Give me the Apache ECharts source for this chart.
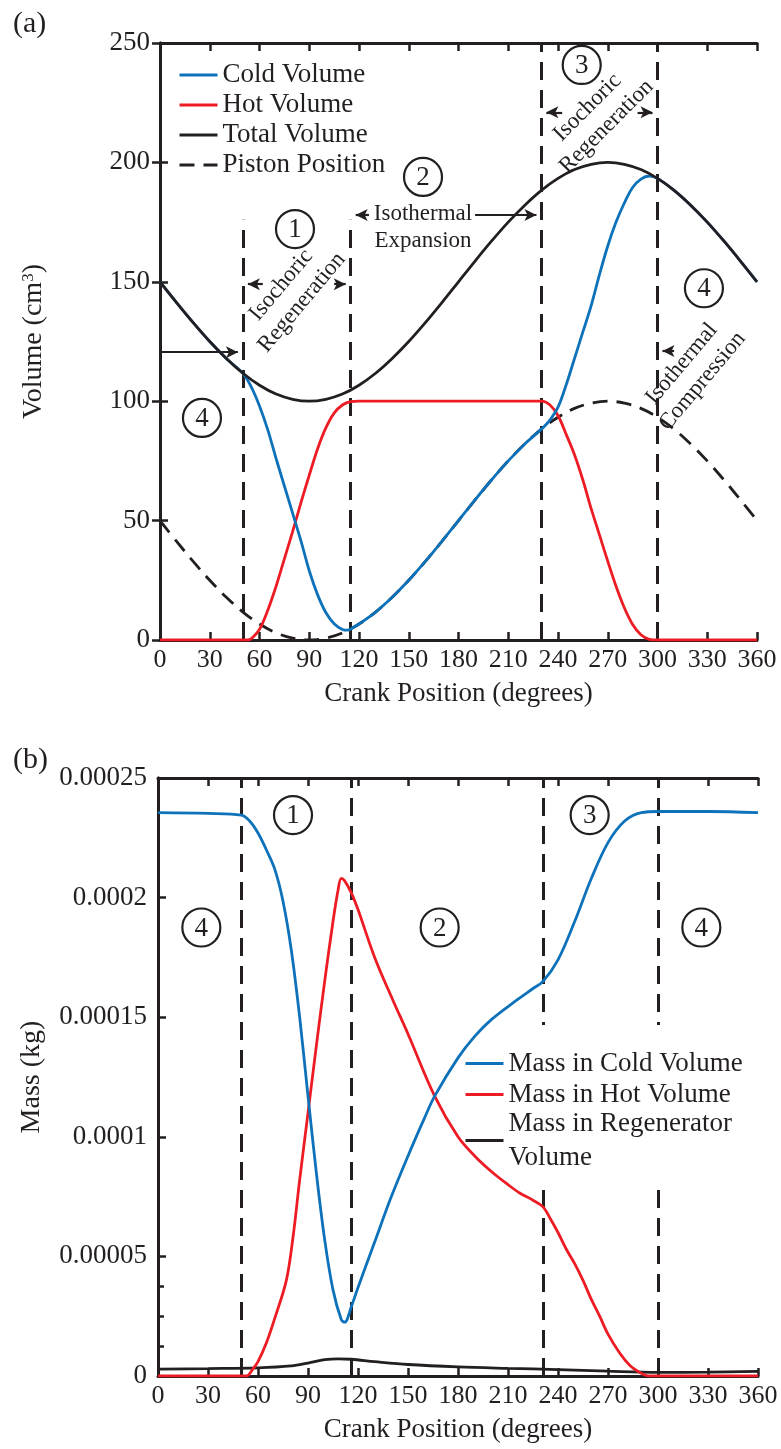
<!DOCTYPE html>
<html>
<head>
<meta charset="utf-8">
<script src="https://cdn.jsdelivr.net/npm/echarts/dist/echarts.min.js"></script>
<style>
html,body{margin:0;padding:0;background:#fff;}
#chart{width:781px;height:1449px;}
</style>
</head>
<body>
<div id="chart"></div>
<script>
// ---------------- DATA ----------------
const crankTicks = [0, 30, 60, 90, 120, 150, 180, 210, 240, 270, 300, 330, 360];
const volumeTicks = [0, 50, 100, 150, 200, 250];
const massTicks = [0, 0.00005, 0.0001, 0.00015, 0.0002, 0.00025];
const massMinorTicks = [0.0000125, 0.000025, 0.0000375];

// (a) volumes [crank deg, cm^3]
const coldVolume = [[0,150],[10,141.3],[20,132.9],[30,125],[40,117.9],[50,111.7],[55,106],[60,98],[65,88],[70,76],[75,64.5],[80,53],[85,41.5],[90,29],[95,19],[100,11.5],[105,6.8],[110,4.4],[113,4.1],[116,5],[120,6.7],[130,11.7],[140,17.9],[150,25],[160,32.9],[170,41.3],[180,50],[190,58.7],[200,67.1],[210,75],[220,82.1],[230,88.3],[235,92],[240,97.5],[245,107],[250,118],[255,129],[260,140],[265,153],[270,165],[275,175],[280,183],[285,189.5],[290,193],[295,194.3],[300,193.3],[310,188.3],[320,182.1],[330,175],[340,167.1],[350,158.7],[360,150]];
const hotVolume = [[0,0],[50,0],[53,0],[55,0.5],[60,4.5],[65,12.5],[70,22.5],[75,34],[80,45.5],[85,57.5],[90,69],[95,80],[100,88.8],[105,95],[110,98.4],[115,99.8],[120,100],[230,100],[235,98.5],[240,94],[245,86],[250,77.5],[255,67],[260,55],[265,44],[270,33],[275,22.5],[280,13.5],[285,6.5],[290,2.2],[295,0.3],[300,0],[360,0]];
const totalVolume = [[0,150],[10,141.3],[20,132.9],[30,125],[40,117.9],[50,111.7],[60,106.7],[70,103],[80,100.8],[90,100],[100,100.8],[110,103],[120,106.7],[130,111.7],[140,117.9],[150,125],[160,132.9],[170,141.3],[180,150],[190,158.7],[200,167.1],[210,175],[220,182.1],[230,188.3],[240,193.3],[250,197],[260,199.2],[270,200],[280,199.2],[290,197],[300,193.3],[310,188.3],[320,182.1],[330,175],[340,167.1],[350,158.7],[360,150]];
const pistonPosition = [[0,50],[10,41.3],[20,32.9],[30,25],[40,17.9],[50,11.7],[60,6.7],[70,3],[80,0.8],[90,0],[100,0.8],[110,3],[120,6.7],[130,11.7],[140,17.9],[150,25],[160,32.9],[170,41.3],[180,50],[190,58.7],[200,67.1],[210,75],[220,82.1],[230,88.3],[240,93.3],[250,97],[260,99.2],[270,100],[280,99.2],[290,97],[300,93.3],[310,88.3],[320,82.1],[330,75],[340,67.1],[350,58.7],[360,50]];

// (b) masses [crank deg, kg]
const massCold = [[0,0.0002355],[30,0.0002352],[50,0.0002345],[55,0.000232],[60,0.000227],[65,0.00022],[70,0.000212],[75,0.0001985],[80,0.000178],[85,0.00015],[90,0.000117],[95,0.000085],[100,0.000057],[105,0.000036],[110,0.0000235],[112,0.0000225],[116,0.000029],[120,0.000037],[130,0.000056],[140,0.000075],[150,0.000092],[160,0.000108],[166,0.000117],[180,0.000133],[190,0.000142],[200,0.000149],[215,0.000157],[225,0.000162],[231,0.000165],[240,0.000174],[250,0.00019],[260,0.000208],[270,0.000223],[280,0.000232],[290,0.0002355],[300,0.000236],[330,0.000236],[360,0.0002355]];
const massHot = [[0,0],[50,0],[53,0],[57,0.000003],[60,0.000006],[65,0.0000138],[70,0.000024],[77,0.00004],[81,0.000058],[85,0.000082],[90,0.00011],[95,0.000138],[100,0.000165],[105,0.00019],[108,0.000203],[110,0.000208],[112,0.000207],[116,0.000202],[120,0.000195],[130,0.000175],[141,0.000157],[150,0.000143],[166,0.000117],[180,0.0001],[190,0.000092],[200,0.0000855],[210,0.00008],[217,0.0000765],[225,0.0000735],[231,0.0000707],[236,0.000065],[240,0.00006],[245,0.000053],[250,0.000047],[255,0.00004],[260,0.000032],[265,0.000025],[270,0.0000175],[277,0.0000096],[283,0.0000045],[289,0.0000015],[293,0.0000002],[296,0],[360,0]];
const massRegen = [[0,0.0000029],[30,0.0000031],[60,0.0000034],[80,0.0000042],[90,0.0000054],[100,0.0000068],[108,0.0000072],[116,0.000007],[130,0.000006],[150,0.0000048],[180,0.0000038],[210,0.0000032],[240,0.0000027],[270,0.000002],[300,0.0000015],[330,0.0000016],[360,0.0000019]];

// phase boundaries (crank deg)
const phaseBoundsA = [50, 115, 230, 300];
const phaseBoundsB = [50, 116, 231, 300];

// ---------------- STYLE ----------------
const FONT = '"Liberation Serif","Times New Roman",serif';
const INK = '#231f20', BLUE = '#0d72ba', RED = '#ed1c24';
const LW = 2.8;
const SMOOTH = 0.35;

function xAxisDef(grid, pos, labels, name) {
  return {
    type: 'value', gridIndex: grid, position: pos,
    min: crankTicks[0], max: crankTicks[crankTicks.length - 1], interval: crankTicks[1] - crankTicks[0],
    axisLine: { show: true, onZero: false, lineStyle: { color: INK, width: 3 } },
    axisTick: { show: true, inside: true, length: 8, lineStyle: { color: INK, width: 2.5 } },
    axisLabel: { show: labels, fontFamily: FONT, fontSize: 26, color: INK, margin: 7 },
    splitLine: { show: false },
    name: name || '', nameLocation: 'middle', nameGap: 40,
    nameTextStyle: { fontFamily: FONT, fontSize: 27, color: INK }
  };
}

const option = {
  animation: false,
  backgroundColor: '#fff',
  textStyle: { fontFamily: FONT },
  title: [
    { text: '(a)', left: 8, top: 4, textStyle: { fontFamily: FONT, fontSize: 30, fontWeight: 'normal', color: INK } },
    { text: '(b)', left: 8, top: 740, textStyle: { fontFamily: FONT, fontSize: 30, fontWeight: 'normal', color: INK } }
  ],
  grid: [
    { left: 160, top: 43, width: 597, height: 597 },
    { left: 158, top: 778, width: 600, height: 598 }
  ],
  legend: [
    {
      data: ['Cold Volume', 'Hot Volume', 'Total Volume', 'Piston Position'],
      orient: 'vertical', left: 173, top: 55, itemWidth: 38, itemHeight: 14, itemGap: 0,
      selectedMode: false, itemStyle: { opacity: 0 }, lineStyle: { width: 3 },
      backgroundColor: '#fff', z: 8,
      textStyle: { fontFamily: FONT, fontSize: 27, color: INK, lineHeight: 30 }
    },
    {
      data: ['Mass in Cold Volume', 'Mass in Hot Volume',
        { name: 'Mass in Regenerator\nVolume', textStyle: { lineHeight: 34, padding: [0, 0, -34, 0] } }],
      orient: 'vertical', left: 459, top: 1025, itemWidth: 38, itemHeight: 14, itemGap: 0,
      selectedMode: false, itemStyle: { opacity: 0 }, lineStyle: { width: 3 },
      backgroundColor: '#fff', padding: [23, 8, 10, 5], z: 8,
      textStyle: { fontFamily: FONT, fontSize: 27, color: INK, lineHeight: 31 }
    }
  ],
  xAxis: [
    xAxisDef(0, 'bottom', true, 'Crank Position (degrees)'),
    xAxisDef(0, 'top', false),
    xAxisDef(1, 'bottom', true, 'Crank Position (degrees)'),
    xAxisDef(1, 'top', false)
  ],
  yAxis: [
    {
      type: 'value', gridIndex: 0, position: 'left',
      min: volumeTicks[0], max: volumeTicks[volumeTicks.length - 1], interval: volumeTicks[1] - volumeTicks[0],
      axisLine: { show: true, lineStyle: { color: INK, width: 3 } },
      axisTick: { show: true, inside: true, length: 8, lineStyle: { color: INK, width: 2.5 } },
      axisLabel: { fontFamily: FONT, fontSize: 27, color: INK, margin: 10 },
      splitLine: { show: false },
      name: 'Volume (cm{s|3})', nameLocation: 'middle', nameGap: 112,
      nameTextStyle: { fontFamily: FONT, fontSize: 28, color: INK, rich: { s: { fontFamily: FONT, fontSize: 17, color: INK, verticalAlign: 'top', lineHeight: 28 } } }
    },
    {
      type: 'value', gridIndex: 0, position: 'right',
      min: volumeTicks[0], max: volumeTicks[volumeTicks.length - 1], interval: volumeTicks[1] - volumeTicks[0],
      axisLine: { show: true, lineStyle: { color: INK, width: 3 } },
      axisTick: { show: true, inside: true, length: 8, lineStyle: { color: INK, width: 2.5 } },
      axisLabel: { show: false }, splitLine: { show: false }
    },
    {
      type: 'value', gridIndex: 1, position: 'left',
      min: massTicks[0], max: massTicks[massTicks.length - 1], interval: massTicks[1] - massTicks[0],
      axisLine: { show: true, lineStyle: { color: INK, width: 3 } },
      axisTick: { show: true, inside: true, length: 8, lineStyle: { color: INK, width: 2.5 } },
      axisLabel: {
        fontFamily: FONT, fontSize: 27, color: INK, margin: 11,
        formatter: v => v.toFixed(5).replace(/0+$/, '').replace(/\.$/, '')
      },
      splitLine: { show: false },
      name: 'Mass (kg)', nameLocation: 'middle', nameGap: 112,
      nameTextStyle: { fontFamily: FONT, fontSize: 28, color: INK }
    },
    {
      type: 'value', gridIndex: 1, position: 'right',
      min: massTicks[0], max: massTicks[massTicks.length - 1], interval: massTicks[1] - massTicks[0],
      axisLine: { show: true, lineStyle: { color: INK, width: 3 } },
      axisTick: { show: false }, axisLabel: { show: false }, splitLine: { show: false }
    },
    {
      type: 'value', gridIndex: 1, position: 'left',
      min: massTicks[0], max: massTicks[massTicks.length - 1], interval: massTicks[1] - massTicks[0],
      axisLine: { show: false },
      axisTick: { show: true, inside: true, length: 6, customValues: massMinorTicks, lineStyle: { color: INK, width: 2.5 } },
      axisLabel: { show: false }, splitLine: { show: false }
    }
  ],
  series: [
    // (a)
    { name: 'Piston Position', type: 'line', xAxisIndex: 0, yAxisIndex: 0, data: pistonPosition, symbol: 'none', smooth: SMOOTH, z: 9,
      lineStyle: { color: INK, width: LW, type: [15, 9] }, itemStyle: { color: INK } },
    { name: 'Hot Volume', type: 'line', xAxisIndex: 0, yAxisIndex: 0, data: hotVolume, symbol: 'none', smooth: SMOOTH, z: 10,
      lineStyle: { color: RED, width: LW }, itemStyle: { color: RED } },
    { name: 'Cold Volume', type: 'line', xAxisIndex: 0, yAxisIndex: 0, data: coldVolume, symbol: 'none', smooth: SMOOTH, z: 11,
      lineStyle: { color: BLUE, width: LW }, itemStyle: { color: BLUE } },
    { name: 'Total Volume', type: 'line', xAxisIndex: 0, yAxisIndex: 0, data: totalVolume, symbol: 'none', smooth: SMOOTH, z: 12,
      lineStyle: { color: INK, width: LW }, itemStyle: { color: INK } },
    // (a) phase boundaries
    { name: 'phaseA', type: 'line', xAxisIndex: 0, yAxisIndex: 0, data: [], silent: true, z: 5,
      markLine: { silent: true, z: 5, symbol: ['none', 'none'], label: { show: false },
        lineStyle: { color: INK, width: 3, type: [18, 10] },
        data: phaseBoundsA.map((b, i) => [{ coord: [b, 0] }, { coord: [b, i < 2 ? 176 : 250] }]) } },
    // (a) arrows
    { name: 'arrowsA', type: 'line', xAxisIndex: 0, yAxisIndex: 0, data: [], silent: true, z: 5,
      markLine: { silent: true, z: 5, symbol: ['none', 'arrow'], symbolSize: [9, 12], label: { show: false },
        lineStyle: { color: INK, width: 2.2, type: 'solid' },
        data: [
          [{ coord: [0, 120.5] }, { coord: [47, 120.5] }],
          [{ coord: [62, 149] }, { coord: [53, 149] }],
          [{ coord: [105, 149] }, { coord: [112, 149] }],
          [{ coord: [126, 178] }, { coord: [118, 178] }],
          [{ coord: [190, 178] }, { coord: [227, 178] }],
          [{ coord: [242.5, 221] }, { coord: [233, 221] }],
          [{ coord: [288, 221] }, { coord: [297, 221] }],
          [{ coord: [310, 121] }, { coord: [303, 121] }]
        ] } },
    // (b)
    { name: 'Mass in Regenerator\nVolume', type: 'line', xAxisIndex: 2, yAxisIndex: 2, data: massRegen, symbol: 'none', smooth: SMOOTH, z: 10,
      lineStyle: { color: INK, width: LW }, itemStyle: { color: INK } },
    { name: 'Mass in Hot Volume', type: 'line', xAxisIndex: 2, yAxisIndex: 2, data: massHot, symbol: 'none', smooth: SMOOTH, z: 11,
      lineStyle: { color: RED, width: LW }, itemStyle: { color: RED } },
    { name: 'Mass in Cold Volume', type: 'line', xAxisIndex: 2, yAxisIndex: 2, data: massCold, symbol: 'none', smooth: SMOOTH, z: 12,
      lineStyle: { color: BLUE, width: LW }, itemStyle: { color: BLUE } },
    { name: 'phaseB', type: 'line', xAxisIndex: 2, yAxisIndex: 2, data: [], silent: true, z: 5,
      markLine: { silent: true, z: 5, symbol: ['none', 'none'], label: { show: false },
        lineStyle: { color: INK, width: 3, type: [18, 10] },
        data: phaseBoundsB.map(b => [{ coord: [b, 0] }, { coord: [b, massTicks[massTicks.length - 1]] }]) } }
  ]
};

const chart = echarts.init(document.getElementById('chart'), null, { renderer: 'canvas' });
chart.setOption(option);

// ---------- annotations placed through the axes ----------
function pA(x, y) { return chart.convertToPixel({ seriesIndex: 0 }, [x, y]); }
function pB(x, y) { return chart.convertToPixel({ seriesIndex: 6 }, [x, y]); }

const circlesA = [['1', 81.4, 172.1], ['2', 158.6, 193.9], ['3', 254.3, 240.8], ['4', 328, 147.3], ['4', 25.3, 93]];
const circlesB = [['1', 81, 0.0002345], ['2', 169, 0.0001875], ['3', 259, 0.0002345], ['4', 26, 0.0001875], ['4', 326, 0.0001875]];
const labelsA = [
  ['Isochoric\nRegeneration', 79.3, 145, 50],
  ['Isothermal\nExpansion', 158.6, 172.7, 0],
  ['Isochoric\nRegeneration', 263.5, 219, 45],
  ['Isothermal\nCompression', 320.8, 112, 50]
];

const graphics = [];
function addCircle(pt, num) {
  graphics.push({ type: 'circle', shape: { cx: pt[0], cy: pt[1], r: 19 }, style: { fill: 'none', stroke: INK, lineWidth: 2.2 }, silent: true, z: 20 });
  graphics.push({ type: 'text', x: pt[0], y: pt[1] + 1, style: { text: num, font: '27px ' + FONT, fill: INK, align: 'center', verticalAlign: 'middle' }, silent: true, z: 20 });
}
circlesA.forEach(c => addCircle(pA(c[1], c[2]), c[0]));
circlesB.forEach(c => addCircle(pB(c[1], c[2]), c[0]));
labelsA.forEach(l => {
  const pt = pA(l[1], l[2]);
  graphics.push({ type: 'text', x: pt[0], y: pt[1], rotation: l[3] * Math.PI / 180,
    style: { text: l[0], font: '23px ' + FONT, fill: INK, align: 'center', verticalAlign: 'middle', lineHeight: 27 }, silent: true, z: 20 });
});
chart.setOption({ graphic: graphics });
</script>
</body>
</html>
